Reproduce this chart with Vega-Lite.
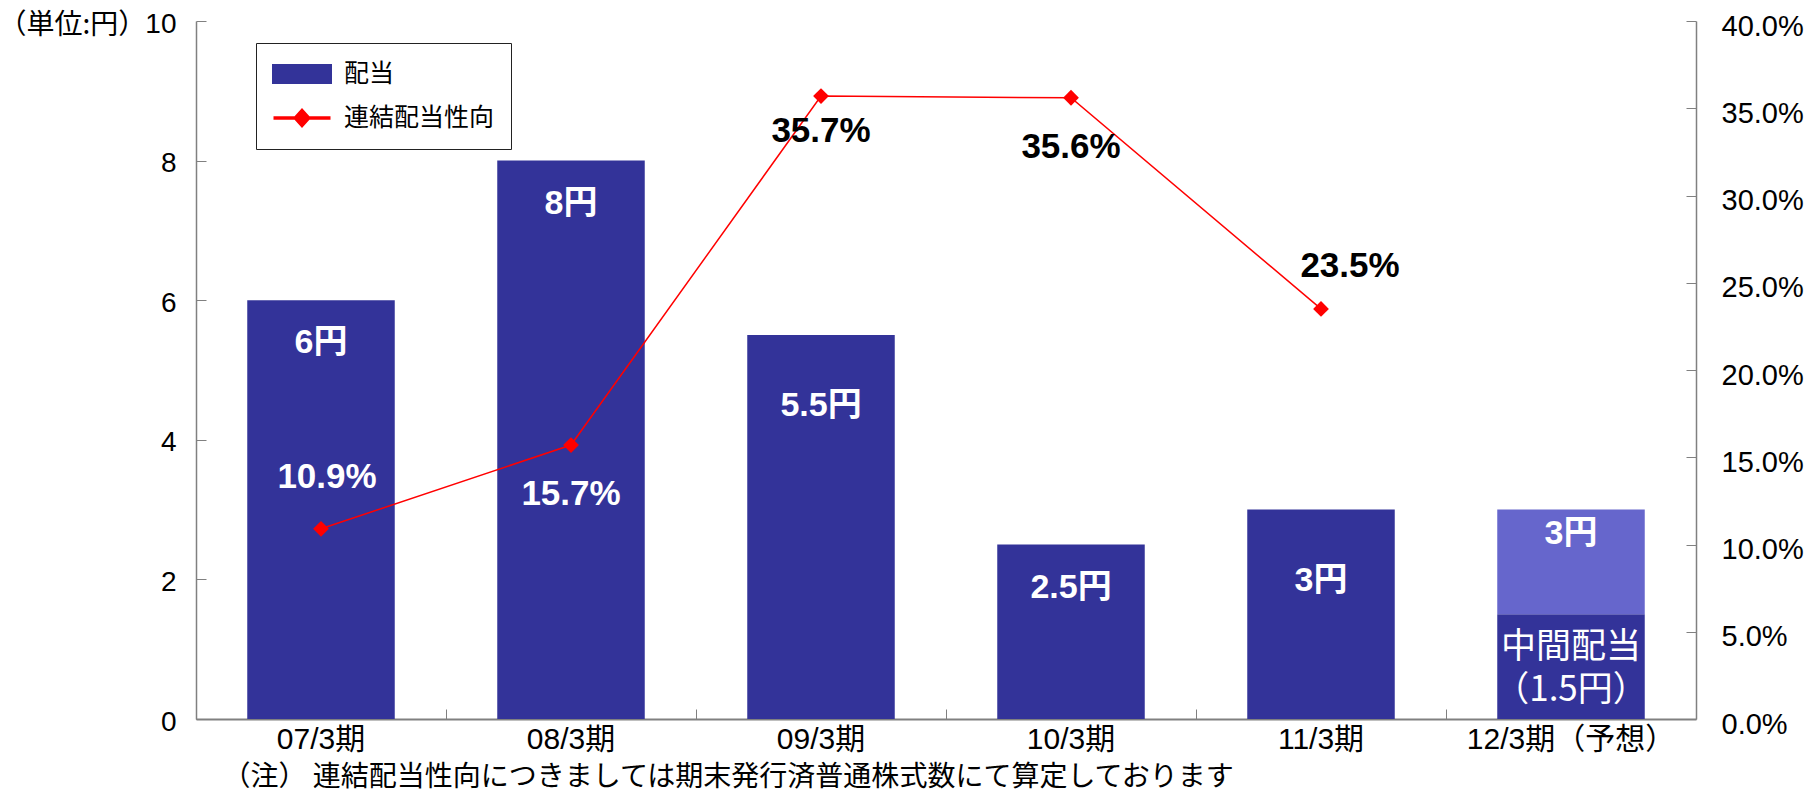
{
  "$schema": "https://vega.github.io/schema/vega-lite/v6.json",
  "width": 1500,
  "height": 698,
  "autosize": {"type": "none"},
  "padding": {"left": 196, "top": 21, "right": 118, "bottom": 74},
  "background": "white",
  "config": {"view": {"stroke": null}, "font": "Liberation Sans, Noto Sans CJK JP"},
  "datasets": {
    "div": [
      {"period": "07/3期", "value": 6, "part": "配当"},
      {"period": "08/3期", "value": 8, "part": "配当"},
      {"period": "09/3期", "value": 5.5, "part": "配当"},
      {"period": "10/3期", "value": 2.5, "part": "配当"},
      {"period": "11/3期", "value": 3, "part": "配当"},
      {"period": "12/3期（予想）", "value": 1.5, "part": "配当"},
      {"period": "12/3期（予想）", "value": 1.5, "part": "予想"}
    ],
    "divtotal": [
      {"period": "07/3期", "total": 6, "label": "6円"},
      {"period": "08/3期", "total": 8, "label": "8円"},
      {"period": "09/3期", "total": 5.5, "label": "5.5円"},
      {"period": "10/3期", "total": 2.5, "label": "2.5円"},
      {"period": "11/3期", "total": 3, "label": "3円"},
      {"period": "12/3期（予想）", "total": 3, "label": "3円"}
    ],
    "interim": [
      {"period": "12/3期（予想）", "value": 1.5, "label": "中間配当\n（1.5円）"}
    ],
    "ratio": [
      {"period": "07/3期", "ratio": 0.109},
      {"period": "08/3期", "ratio": 0.157},
      {"period": "09/3期", "ratio": 0.357},
      {"period": "10/3期", "ratio": 0.356},
      {"period": "11/3期", "ratio": 0.235}
    ]
  },
  "encoding": {
    "x": {
      "field": "period",
      "type": "nominal",
      "scale": {
        "domain": ["07/3期", "08/3期", "09/3期", "10/3期", "11/3期", "12/3期（予想）"],
        "paddingInner": 0,
        "paddingOuter": 0
      },
      "axis": {
        "title": "（注） 連結配当性向につきましては期末発行済普通株式数にて算定しております",
        "titleFont": "Noto Sans CJK JP",
        "titleFontSize": 28,
        "titleFontWeight": "normal",
        "titleColor": "black",
        "titleAlign": "left",
        "titleAnchor": "start",
        "titleBaseline": "middle",
        "titleX": 26,
        "titleY": 58,
        "labelAngle": 0,
        "labelFontSize": 30,
        "labelColor": "black",
        "labelPadding": 15,
        "labelLimit": 400,
        "tickSize": -10,
        "tickColor": "#808080",
        "domainColor": "#808080",
        "domainWidth": 2,
        "bandPosition": 0
      }
    }
  },
  "layer": [
    {
      "layer": [
        {
          "data": {"name": "div"},
          "mark": {"type": "bar", "width": {"band": 0.59}},
          "encoding": {
            "y": {
              "field": "value",
              "type": "quantitative",
              "stack": "zero",
              "scale": {"domain": [0, 10], "nice": false},
              "axis": {
                "title": "（単位:円）",
                "titleAngle": 0,
                "titleAlign": "left",
                "titleBaseline": "middle",
                "titleX": -198,
                "titleY": 4,
                "titleFont": "Noto Sans CJK JP",
                "titleFontSize": 28,
                "titleFontWeight": "normal",
                "titleColor": "black",
                "values": [0, 2, 4, 6, 8, 10],
                "format": "d",
                "labelFontSize": 28,
                "labelColor": "black",
                "labelPadding": 30,
                "labelOffset": 3,
                "tickSize": -10,
                "tickColor": "#808080",
                "domainColor": "#808080",
                "domainWidth": 1.5,
                "grid": false
              }
            },
            "color": {
              "field": "part",
              "type": "nominal",
              "scale": {
                "domain": ["配当", "連結配当性向", "予想"],
                "range": ["#333399", "#ff0000", "#6666cc"]
              },
              "legend": {
                "values": ["配当", "連結配当性向"],
                "title": null,
                "orient": "none",
                "legendX": 60,
                "legendY": 22,
                "symbolSize": 3600,
                "clipHeight": 30,
                "rowPadding": 14,
                "padding": 16,
                "strokeColor": "#222222",
                "fillColor": "white",
                "labelFont": "Noto Sans CJK JP",
                "labelFontSize": 25,
                "labelColor": "black",
                "labelOffset": 12,
                "symbolStrokeWidth": 0,
                "symbolOpacity": 1,
                "encode": {
                  "symbols": {
                    "update": {
                      "shape": {"signal": "datum.value === '配当' ? 'M-1,-0.333H1V0.333H-1Z' : 'M-0.95,-0.06H0.95V0.06H-0.95Z M0,-0.333L0.3,0L0,0.333L-0.3,0Z'"}
                    }
                  }
                }
              }
            },
            "order": {"field": "part", "type": "ordinal", "sort": "descending"}
          }
        },
        {
          "data": {"name": "divtotal"},
          "transform": [{"filter": {"field": "period", "oneOf": ["07/3期", "08/3期", "10/3期"]}}],
          "mark": {"type": "text", "color": "white", "fontSize": 34, "fontWeight": "bold", "baseline": "middle", "dy": 43},
          "encoding": {
            "y": {"field": "total", "type": "quantitative"},
            "text": {"field": "label"}
          }
        },
        {
          "data": {"name": "divtotal"},
          "transform": [{"filter": {"field": "period", "oneOf": ["09/3期", "11/3期"]}}],
          "mark": {"type": "text", "color": "white", "fontSize": 34, "fontWeight": "bold", "baseline": "middle", "dy": 71},
          "encoding": {
            "y": {"field": "total", "type": "quantitative"},
            "text": {"field": "label"}
          }
        },
        {
          "data": {"name": "divtotal"},
          "transform": [{"filter": {"field": "period", "oneOf": ["12/3期（予想）"]}}],
          "mark": {"type": "text", "color": "white", "fontSize": 34, "fontWeight": "bold", "baseline": "middle", "dy": 24},
          "encoding": {
            "y": {"field": "total", "type": "quantitative"},
            "text": {"field": "label"}
          }
        },
        {
          "data": {"name": "interim"},
          "mark": {"type": "text", "color": "white", "fontSize": 35, "font": "Noto Sans CJK JP", "lineBreak": "\n", "lineHeight": 43, "baseline": "middle", "dy": 33},
          "encoding": {
            "y": {"field": "value", "type": "quantitative"},
            "text": {"field": "label"}
          }
        }
      ]
    },
    {
      "data": {"name": "ratio"},
      "layer": [
        {
          "mark": {"type": "line", "color": "#ff0000", "strokeWidth": 1.5},
          "encoding": {
            "y": {
              "field": "ratio",
              "type": "quantitative",
              "scale": {"domain": [0, 0.4], "nice": false},
              "axis": {
                "orient": "right",
                "title": null,
                "format": ".1%",
                "values": [0, 0.05, 0.1, 0.15, 0.2, 0.25, 0.3, 0.35, 0.4],
                "labelFontSize": 29,
                "labelColor": "black",
                "labelPadding": 35,
                "labelOffset": 5,
                "tickSize": -10,
                "tickColor": "#808080",
                "domainColor": "#808080",
                "domainWidth": 1.5,
                "grid": false
              }
            }
          }
        },
        {
          "mark": {"type": "point", "shape": "diamond", "filled": true, "color": "#ff0000", "size": 250, "opacity": 1},
          "encoding": {"y": {"field": "ratio", "type": "quantitative"}}
        },
        {
          "transform": [{"filter": {"field": "period", "oneOf": ["07/3期"]}}],
          "mark": {"type": "text", "color": "white", "fontSize": 35, "fontWeight": "bold", "baseline": "middle", "dx": 6, "dy": -52},
          "encoding": {
            "y": {"field": "ratio", "type": "quantitative"},
            "text": {"field": "ratio", "format": ".1%"}
          }
        },
        {
          "transform": [{"filter": {"field": "period", "oneOf": ["08/3期", "10/3期"]}}],
          "mark": {"type": "text", "fontSize": 35, "fontWeight": "bold", "baseline": "middle", "dy": 49},
          "encoding": {
            "y": {"field": "ratio", "type": "quantitative"},
            "text": {"field": "ratio", "format": ".1%"},
            "color": {"condition": {"test": "datum.period === '08/3期'", "value": "white"}, "value": "black"}
          }
        },
        {
          "transform": [{"filter": {"field": "period", "oneOf": ["09/3期"]}}],
          "mark": {"type": "text", "color": "black", "fontSize": 35, "fontWeight": "bold", "baseline": "middle", "dy": 35},
          "encoding": {
            "y": {"field": "ratio", "type": "quantitative"},
            "text": {"field": "ratio", "format": ".1%"}
          }
        },
        {
          "transform": [{"filter": {"field": "period", "oneOf": ["11/3期"]}}],
          "mark": {"type": "text", "color": "black", "fontSize": 35, "fontWeight": "bold", "baseline": "middle", "dx": 29, "dy": -43},
          "encoding": {
            "y": {"field": "ratio", "type": "quantitative"},
            "text": {"field": "ratio", "format": ".1%"}
          }
        }
      ]
    }
  ],
  "resolve": {"scale": {"y": "independent"}}
}
